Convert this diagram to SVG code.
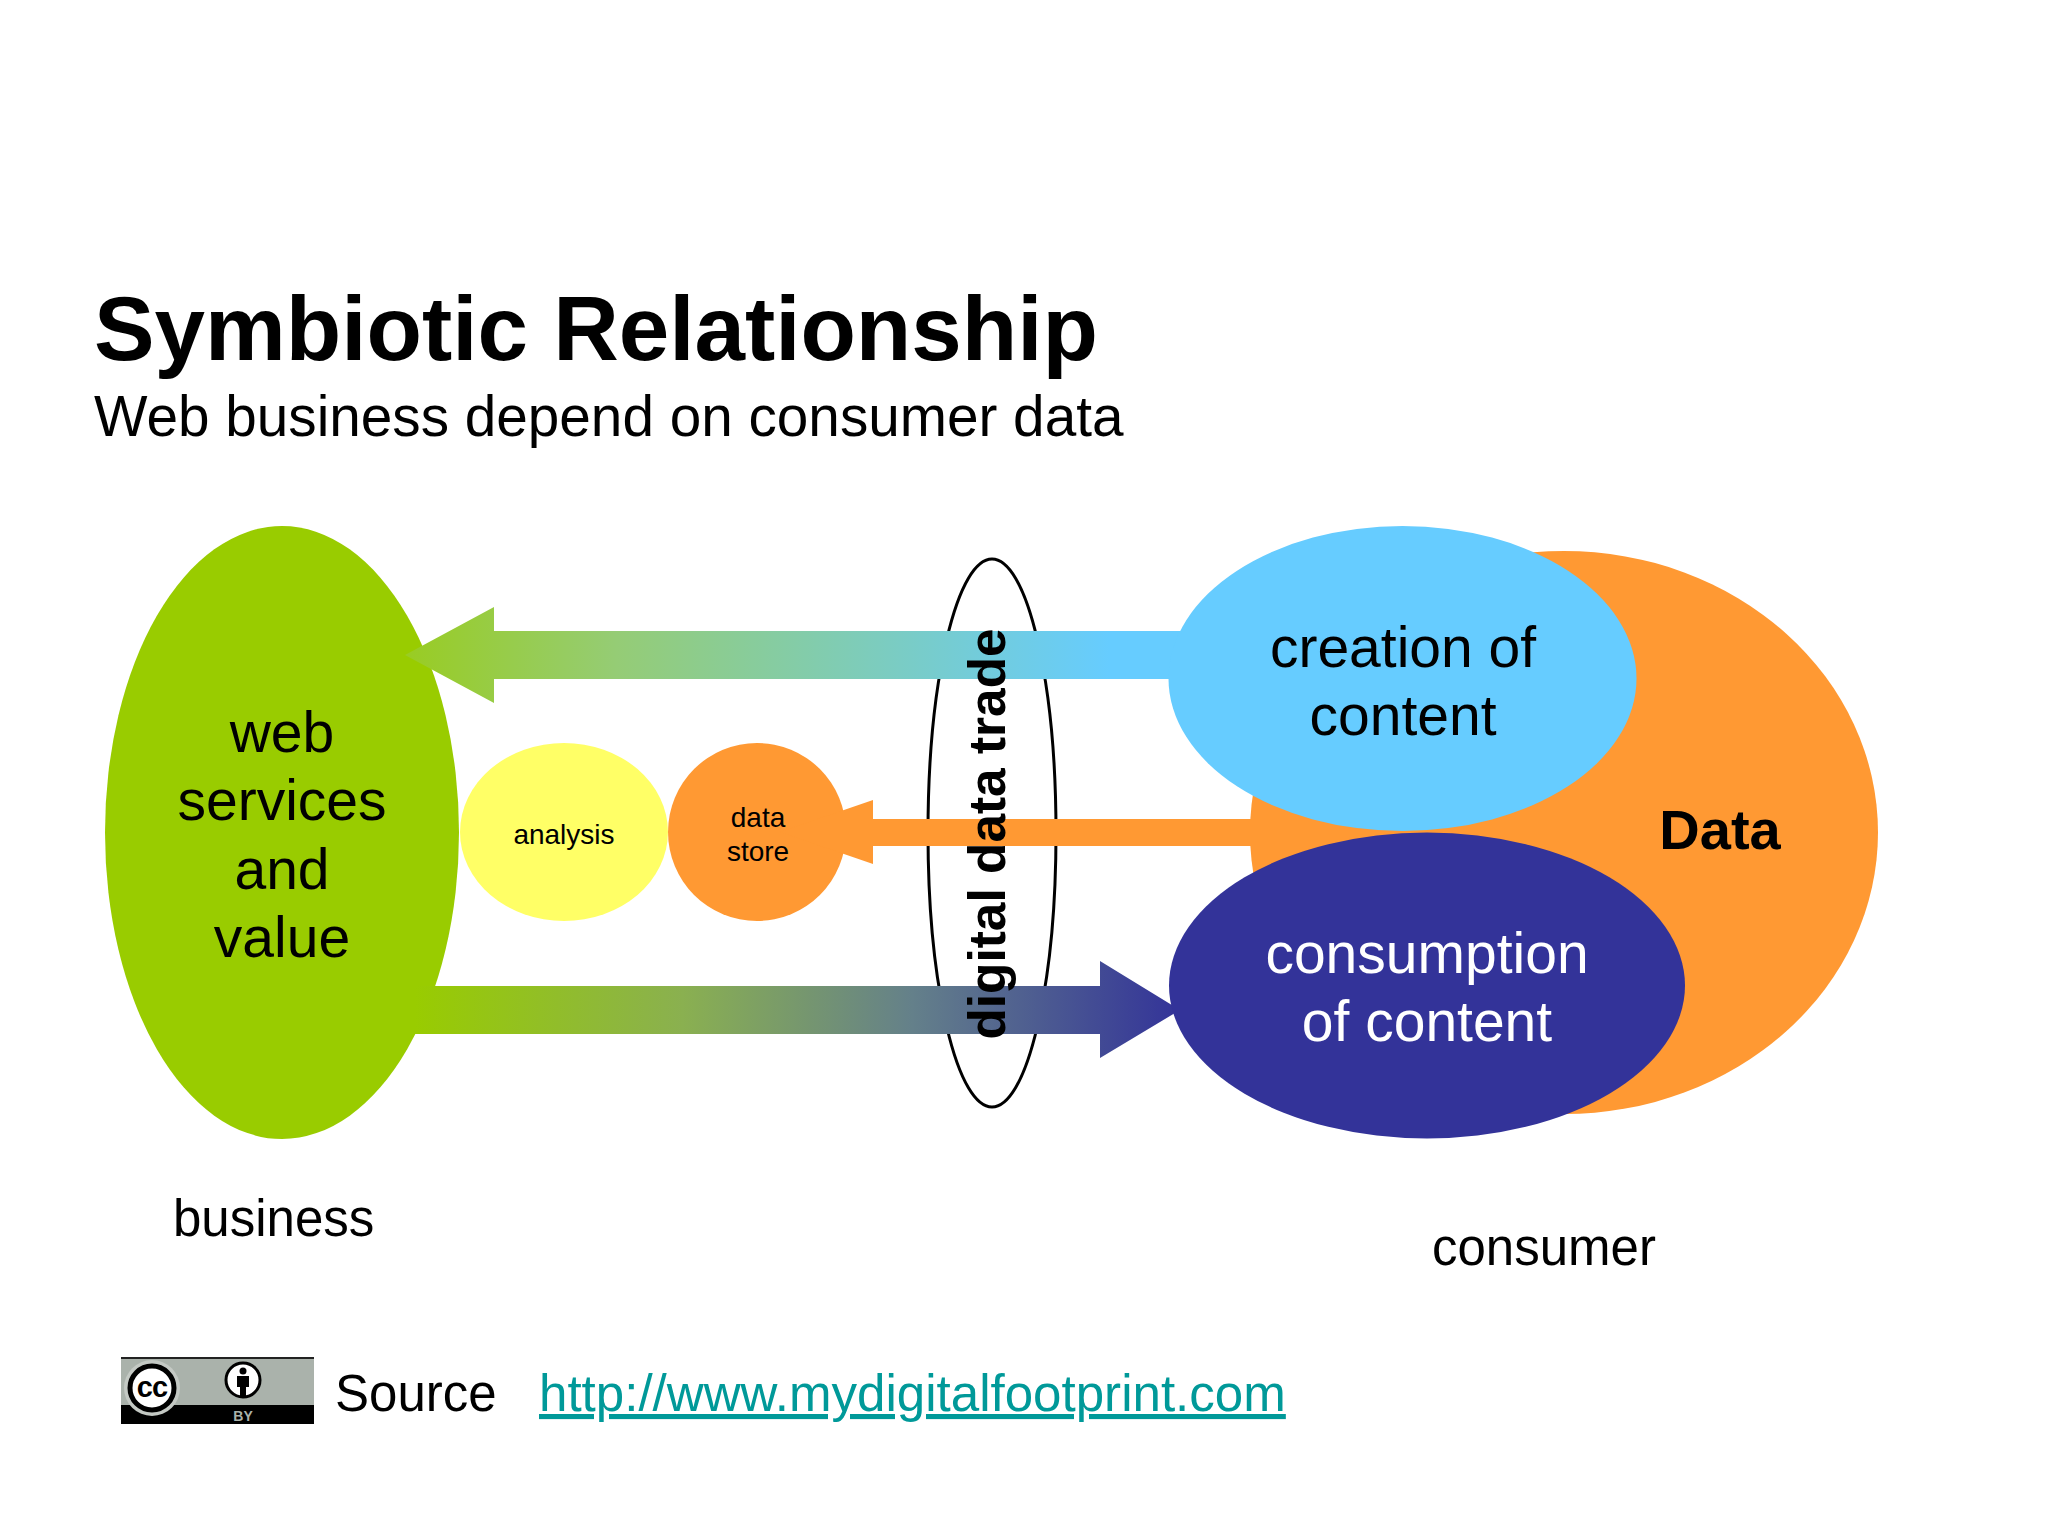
<svg xmlns="http://www.w3.org/2000/svg" width="2048" height="1536" viewBox="0 0 2048 1536">
<style>
text{font-family:"Liberation Sans",Arial,sans-serif;fill:#000}
.m{text-anchor:middle}
.l{font-size:57px}
.s{font-size:28px}
.lb{font-size:51px}
</style>
<defs>
<linearGradient id="gt" gradientUnits="userSpaceOnUse" x1="405" y1="0" x2="1110" y2="0"><stop offset="0" stop-color="#99cc22"/><stop offset="0.3" stop-color="#95cc75"/><stop offset="1" stop-color="#66ccff"/></linearGradient>
<linearGradient id="gb" gradientUnits="userSpaceOnUse" x1="415" y1="0" x2="1180" y2="0"><stop offset="0" stop-color="#99cc00"/><stop offset="0.35" stop-color="#8ab050"/><stop offset="0.65" stop-color="#64808a"/><stop offset="1" stop-color="#333399"/></linearGradient>
</defs>
<rect width="2048" height="1536" fill="#fff"/>
<g id="title">
<text x="94" y="360" font-size="90.800" font-weight="bold">Symbiotic Relationship</text>
<text x="94" y="436" font-size="56.700">Web business depend on consumer data</text>
</g>
<g id="trade-ellipse"><ellipse cx="992" cy="833" rx="64" ry="274" fill="#fff" stroke="#000" stroke-width="3"/></g>
<g id="web-services"><ellipse cx="282" cy="832.500" rx="177" ry="306.500" fill="#99cc00"/></g>
<g id="analysis"><ellipse cx="564" cy="832" rx="104" ry="89" fill="#ffff66"/></g>
<g id="data-store"><ellipse cx="757" cy="832" rx="89" ry="89" fill="#ff9933"/></g>
<g id="data"><ellipse cx="1564" cy="832.500" rx="314" ry="281.500" fill="#ff9933"/></g>
<g id="connectors">
<path d="M1190 631H494V607L405 655L494 703V679H1190Z" fill="url(#gt)"/>
<path d="M1260 819H873V800L780 832L873 864V846H1260Z" fill="#ff9933"/>
<path d="M415 986H1100V961L1180 1010L1100 1058V1034H415Z" fill="url(#gb)"/>
</g>
<g id="creation"><ellipse cx="1402.500" cy="678.500" rx="234" ry="152.500" fill="#66ccff"/>
<text class="m l" x="1403" y="667">creation of</text><text class="m l" x="1403" y="735">content</text></g>
<g id="consumption"><ellipse cx="1427" cy="985.500" rx="258" ry="153" fill="#333399"/>
<text class="m l" x="1427" y="973" style="fill:#fff">consumption</text><text class="m l" x="1427" y="1041" style="fill:#fff">of content</text></g>
<g id="labels">
<text class="m l" x="282" y="752">web</text><text class="m l" x="282" y="820">services</text><text class="m l" x="282" y="889">and</text><text class="m l" x="282" y="957">value</text>
<text class="m s" x="564" y="844">analysis</text>
<text class="m s" x="758" y="827">data</text><text class="m s" x="758" y="861">store</text>
<text class="m" x="1720" y="849" font-size="56" font-weight="bold">Data</text>
<text class="m" transform="translate(1005 834) rotate(-90)" font-size="51.400" font-weight="bold">digital data trade</text>
<text class="lb" x="173" y="1236">business</text>
<text class="lb" x="1432" y="1265">consumer</text>
</g>
<g id="cc-badge">
<rect x="121" y="1357" width="193" height="67" fill="#aab2ab"/>
<rect x="121" y="1357" width="193" height="2" fill="#222"/>
<rect x="121" y="1405" width="193" height="19" fill="#000"/>
<circle cx="152" cy="1388" r="28" fill="#c4c9c4"/>
<circle cx="152" cy="1388" r="22" fill="#fff" stroke="#000" stroke-width="5"/>
<text class="m" x="152" y="1397" font-size="29" font-weight="bold" letter-spacing="-1">cc</text>
<circle cx="243" cy="1380" r="17" fill="#fff" stroke="#000" stroke-width="3"/>
<circle cx="243" cy="1371" r="3.500" fill="#000"/>
<path d="M237 1376h12v11h-3v9h-6v-9h-3z" fill="#000"/>
<text class="m" x="243" y="1421" font-size="14" font-weight="bold" style="fill:#aab2ab">BY</text>
</g>
<g id="source">
<text x="335" y="1411" font-size="51">Source</text>
<text x="539" y="1411" font-size="51.100" text-decoration="underline" style="fill:#009999">http://www.mydigitalfootprint.com</text>
</g>
</svg>
